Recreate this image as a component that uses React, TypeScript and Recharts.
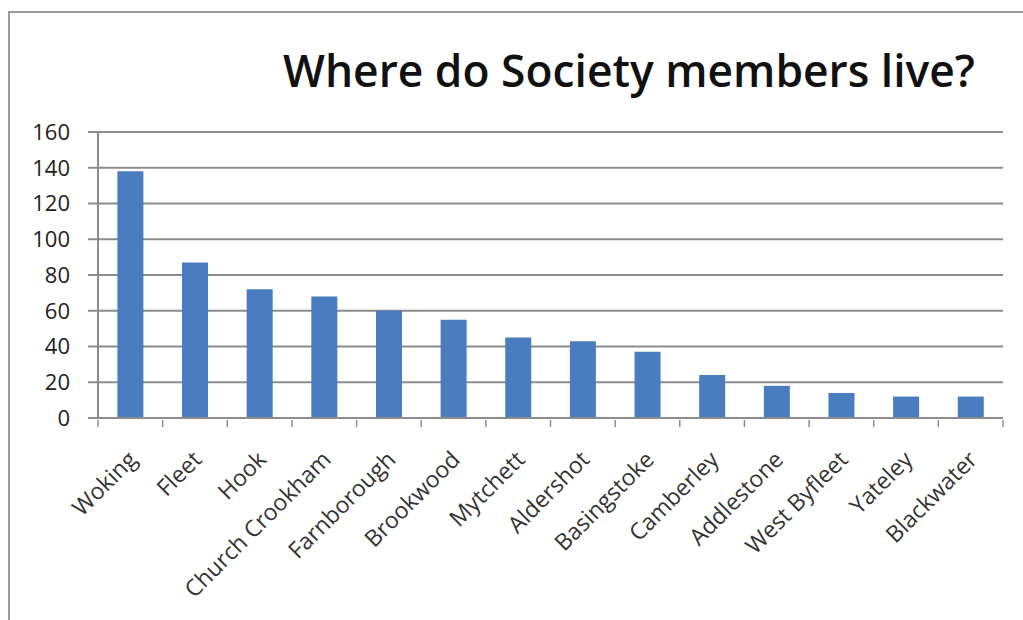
import React from 'react';
import { BarChart, Bar, XAxis, YAxis, CartesianGrid } from 'recharts';

const towns = ['Woking', 'Fleet', 'Hook', 'Church Crookham', 'Farnborough', 'Brookwood', 'Mytchett', 'Aldershot', 'Basingstoke', 'Camberley', 'Addlestone', 'West Byfleet', 'Yateley', 'Blackwater'];
const members = [138, 87, 72, 68, 60, 55, 45, 43, 37, 24, 18, 14, 12, 12];
const yTicks = [0, 20, 40, 60, 80, 100, 120, 140, 160];
const title = 'Where do Society members live?';

const data = towns.map((t, i) => ({ town: t, value: members[i] }));

const W = 1023;
const H = 620;
const LEFT = 98;
const RIGHT = 20;
const BAND = (W - LEFT - RIGHT) / towns.length;
const FONT = '"Open Sans", sans-serif';

const XTick = (props: any) => {
  const { x, y, payload, index } = props;
  const half = BAND / 2;
  const last = index === towns.length - 1;
  return (
    <g>
      <line x1={x - half} x2={x - half} y1={y - 8} y2={y - 1} stroke="#8c8c8c" strokeWidth={1.5} />
      {last && <line x1={x + half} x2={x + half} y1={y - 8} y2={y - 1} stroke="#8c8c8c" strokeWidth={1.5} />}
      <g transform={`translate(${x + 8},${y + 33})`}>
        <text x={0} y={0} textAnchor="end" transform="rotate(-45)" fill="#333" fontSize={23} fontFamily={FONT}>
          {payload.value}
        </text>
      </g>
    </g>
  );
};

export default function App() {
  return (
    <div style={{ position: 'absolute', left: 0, top: 0, width: W, height: H, background: '#fff', overflow: 'hidden' }}>
      <div style={{ position: 'absolute', left: 8, top: 11, width: 1100, height: 700, borderTop: '2px solid #9a9a9a', borderLeft: '2px solid #9a9a9a' }} />
      <svg style={{ position: 'absolute', left: 0, top: 0 }} width={W} height={120}>
        <text x={283} y={87} textLength={692} lengthAdjust="spacingAndGlyphs" fontSize={46} fontWeight={600} fontFamily={FONT} fill="#111">
          {title}
        </text>
      </svg>
      <div style={{ position: 'absolute', left: 0, top: 0 }}>
        <BarChart width={W} height={H} data={data} margin={{ top: 132, right: RIGHT, left: 0, bottom: 0 }} barCategoryGap="30%">
          <CartesianGrid vertical={false} stroke="#8c8c8c" strokeWidth={2} />
          <XAxis
            dataKey="town"
            interval={0}
            height={202}
            tick={<XTick />}
            tickLine={false}
            tickSize={8}
            axisLine={{ stroke: '#8c8c8c', strokeWidth: 2 }}
          />
          <YAxis
            width={LEFT}
            domain={[0, 160]}
            ticks={yTicks}
            interval={0}
            tickSize={10}
            tickMargin={18}
            tickLine={{ stroke: '#8c8c8c', strokeWidth: 2 }}
            axisLine={{ stroke: '#8c8c8c', strokeWidth: 2 }}
            tick={{ fill: '#222', fontSize: 22, fontFamily: FONT }}
          />
          <Bar dataKey="value" fill="#4a7cc0" isAnimationActive={false} />
        </BarChart>
      </div>
    </div>
  );
}
